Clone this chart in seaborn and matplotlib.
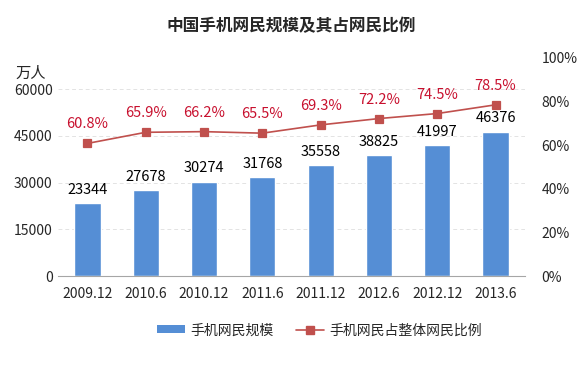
import seaborn as sns
import matplotlib.pyplot as plt
import pandas as pd
import numpy as np
from matplotlib.lines import Line2D
from matplotlib.patches import Patch

# data
periods = ["2009.12", "2010.6", "2010.12", "2011.6", "2011.12", "2012.6", "2012.12", "2013.6"]
mobile_users = [23344, 27678, 30274, 31768, 35558, 38825, 41997, 46376]
mobile_share = [60.8, 65.9, 66.2, 65.5, 69.3, 72.2, 74.5, 78.5]

sns.set_style("white")
plt.rcParams['font.family'] = ['Noto Sans CJK SC', 'DejaVu Sans']

bar_color = "#558ED5"
line_color = "#C0504D"
label_red = "#C8102E"

fig = plt.figure(figsize=(5.83, 3.69), dpi=100)
ax = fig.add_axes([0.1, 0.252, 0.8, 0.591])

df = pd.DataFrame({"period": periods, "users": mobile_users, "share": np.array(mobile_share) / 100})

sns.barplot(data=df, x="period", y="users", color=bar_color, width=0.45, saturation=1, ax=ax)
ax.set_ylim(0, 70000)
ax.set_yticks([0, 15000, 30000, 45000, 60000])
ax.set_xlabel("")
ax.set_ylabel("")
ax.yaxis.grid(True, color="#E3E3E3", linestyle=(0, (4, 3)), linewidth=0.7)
ax.set_axisbelow(True)
for s in ["top", "right", "left"]:
    ax.spines[s].set_visible(False)
ax.spines["bottom"].set_color("#A6A6A6")
ax.tick_params(axis="both", labelsize=10, length=0, pad=4)
ax.tick_params(axis="x", pad=8)

for i, v in enumerate(mobile_users):
    ax.text(i, v + 2000, str(v), ha="center", va="bottom", fontsize=10.5, color="black")

ax2 = ax.twinx()
sns.pointplot(data=df, x="period", y="share", color=line_color, markers="s",
              markersize=6, linewidth=1.2, ax=ax2)
ax2.set_ylim(0, 1)
ax2.set_yticks(np.linspace(0, 1, 6))
ax2.set_yticklabels([f"{int(t*100)}%" for t in np.linspace(0, 1, 6)])
ax2.set_ylabel("")
ax2.set_xlabel("")
for s in ["top", "right", "left", "bottom"]:
    ax2.spines[s].set_visible(False)
ax2.tick_params(axis="y", labelsize=10, length=0, pad=12)
ax2.set_xlim(ax.get_xlim())

for i, v in enumerate(mobile_share):
    ax2.text(i, v / 100 + 0.055, f"{v}%", ha="center", va="bottom", fontsize=10.5, color=label_red)

fig.text(0.5, 0.928, "中国手机网民规模及其占网民比例", ha="center", va="center",
         fontsize=12, fontweight="bold")
fig.text(0.052, 0.8, "万人", ha="center", va="center", fontsize=11)

handles = [Patch(facecolor=bar_color, edgecolor="none"),
           Line2D([0], [0], color=line_color, marker="s", markersize=6, linewidth=1.2)]
fig.legend(handles, ["手机网民规模", "手机网民占整体网民比例"], loc="center",
           bbox_to_anchor=(0.548, 0.105), ncol=2, frameon=False, fontsize=10,
           handlelength=2.0, handleheight=0.5, handletextpad=0.4, columnspacing=1.6)

plt.savefig("out.png", dpi=100)
